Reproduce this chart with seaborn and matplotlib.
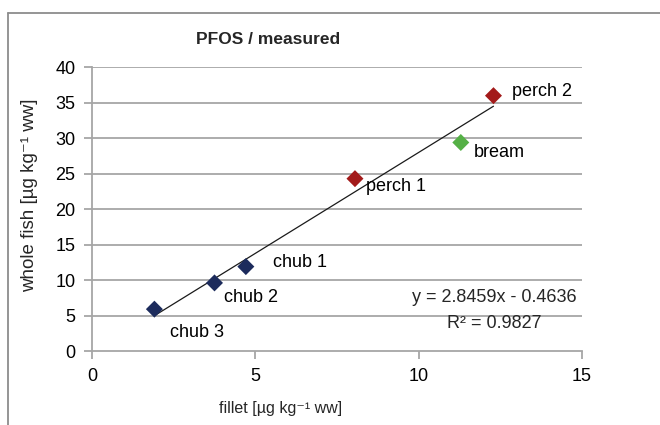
import matplotlib
matplotlib.use("Agg")
import matplotlib.pyplot as plt
from matplotlib.lines import Line2D
import seaborn as sns
import pandas as pd
import numpy as np

# ---- data ----
names = ["chub 3", "chub 2", "chub 1", "perch 1", "bream", "perch 2"]
species = ["chub", "chub", "chub", "perch", "bream", "perch"]
fillet = [1.91, 3.75, 4.71, 8.05, 11.29, 12.29]
whole_fish = [5.9, 9.6, 11.9, 24.3, 29.4, 36.0]
slope = 2.8459
intercept = -0.4636
r2 = 0.9827
x_ticks = [0, 5, 10, 15]
y_ticks = [0, 5, 10, 15, 20, 25, 30, 35, 40]

df = pd.DataFrame({"name": names, "species": species, "fillet": fillet, "whole": whole_fish})
palette = {"chub": "#1c2b5c", "perch": "#a31a1a", "bream": "#55b046"}

sns.set_theme(style="white")
fam = ["Liberation Sans", "DejaVu Sans"]
plt.rcParams["font.family"] = fam

fig = plt.figure(figsize=(6.6, 4.25), dpi=100)
ax = fig.add_axes([92 / 660, 1 - 351 / 425, 490 / 660, (351 - 67.3) / 425])

# outer chart frame (top and left edges visible)
fig.add_artist(Line2D([8 / 660, 8 / 660], [0, 1 - 13 / 425], transform=fig.transFigure,
                      color="#8c8c8c", lw=1.3))
fig.add_artist(Line2D([8 / 660, 1], [1 - 13 / 425, 1 - 13 / 425], transform=fig.transFigure,
                      color="#8c8c8c", lw=1.3))

grid_c = "#a6a6a6"
for yv in y_ticks[1:]:
    ax.axhline(yv, color=grid_c, lw=1.3, zorder=0)

# trendline from the stated equation
xs = np.array([min(fillet), max(fillet)])
trend = pd.DataFrame({"x": xs, "y": slope * xs + intercept})
sns.lineplot(data=trend, x="x", y="y", ax=ax, color="#1a1a1a", lw=0.9, zorder=2)

sns.scatterplot(data=df, x="fillet", y="whole", hue="species", palette=palette,
                marker="D", s=75, edgecolor="none", legend=False, ax=ax, zorder=3)

offsets = {"perch 2": (19, 4), "bream": (13, -10), "perch 1": (11, -8),
           "chub 1": (27, 4), "chub 2": (9, -15), "chub 3": (16, -23)}
for n, xv, yv in zip(names, fillet, whole_fish):
    ax.annotate(n, (xv, yv), xytext=offsets[n], textcoords="offset pixels",
                ha="left", va="center", fontsize=13, color="black")

ax.text(0.8206, 1 - (298 - 67.3) / 283.7, f"y = {slope}x - {abs(intercept)}",
        transform=ax.transAxes, ha="center", va="center", fontsize=13)
ax.text(0.8206, 1 - (323 - 67.3) / 283.7, f"R² = {r2}",
        transform=ax.transAxes, ha="center", va="center", fontsize=13)

ax.set_xlim(0, 15)
ax.set_ylim(0, 40)
ax.set_xticks(x_ticks)
ax.set_yticks(y_ticks)
ax.tick_params(axis="both", labelsize=13, colors=grid_c, labelcolor="black",
               direction="out", length=6, width=1.3, pad=6)
ax.tick_params(axis="x", left=False, bottom=True, pad=6)
ax.tick_params(axis="y", left=True)
for s in ["top", "right"]:
    ax.spines[s].set_visible(False)
for s in ["left", "bottom"]:
    ax.spines[s].set_color(grid_c)
    ax.spines[s].set_linewidth(1.3)

ax.set_xlabel("fillet [µg kg⁻¹ ww]", fontsize=11.5)
ax.set_ylabel("whole fish [µg kg⁻¹ ww]", fontsize=13.5)
ax.xaxis.set_label_coords(0.384, -0.175)
ax.yaxis.set_label_coords(-0.11, 0.55)

fig.text(268 / 660, 1 - 40 / 425, "PFOS / measured", ha="center", va="center",
         fontsize=12.5, fontweight="bold")

fig.savefig("out.png", dpi=100)
